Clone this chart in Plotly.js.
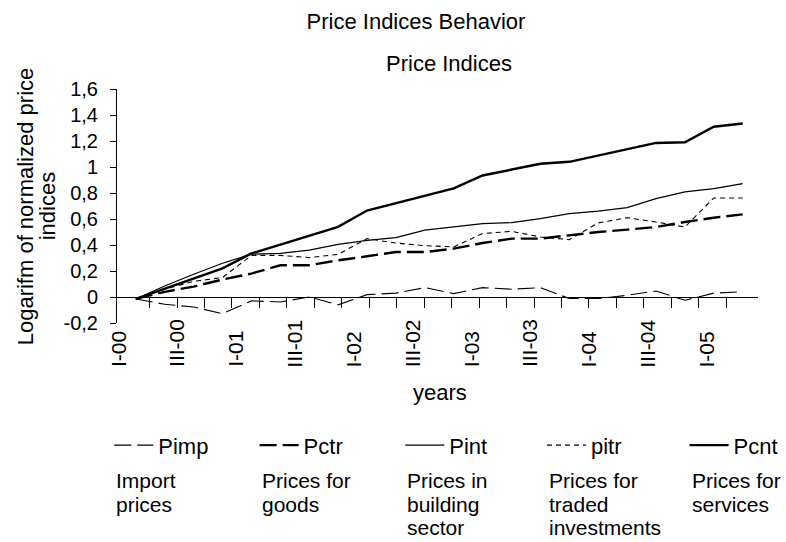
<!DOCTYPE html>
<html><head><meta charset="utf-8">
<script src="https://cdn.plot.ly/plotly-3.0.1.min.js"></script>
<style>html,body{margin:0;padding:0;background:#fff}#chart{width:786px;height:542px}</style>
</head><body><div id="chart"></div>
<script>
// ---- data ----
const quarters = ["I-00","II-00","III-00","IV-00","I-01","II-01","III-01","IV-01",
  "I-02","II-02","III-02","IV-02","I-03","II-03","III-03","IV-03",
  "I-04","II-04","III-04","IV-04","I-05","II-05"];
const tickLabels = ["I-00","III-00","I-01","III-01","I-02","III-02","I-03","III-03","I-04","III-04","I-05"];
const Pimp = [-0.015,-0.056,-0.077,-0.128,-0.03,-0.038,0.0,-0.06,0.018,0.03,0.072,0.026,0.072,0.06,0.072,-0.012,-0.012,0.013,0.046,-0.025,0.03,0.04];
const Pctr = [-0.015,0.04,0.08,0.134,0.18,0.244,0.244,0.282,0.313,0.346,0.346,0.372,0.415,0.449,0.449,0.475,0.5,0.518,0.538,0.577,0.61,0.636];
const Pint = [-0.015,0.085,0.175,0.26,0.33,0.335,0.36,0.405,0.436,0.457,0.515,0.538,0.565,0.572,0.603,0.641,0.66,0.687,0.757,0.808,0.834,0.872];
const pitr = [-0.015,0.06,0.12,0.15,0.32,0.32,0.303,0.328,0.449,0.415,0.395,0.385,0.488,0.505,0.462,0.441,0.57,0.61,0.577,0.538,0.762,0.762];
const Pcnt = [-0.015,0.065,0.145,0.22,0.335,0.405,0.47,0.54,0.665,0.72,0.78,0.835,0.935,0.98,1.025,1.04,1.09,1.135,1.185,1.19,1.31,1.335];
const seriesNames = ["Pimp","Pctr","Pint","pitr","Pcnt"];
const seriesValues = [Pimp, Pctr, Pint, pitr, Pcnt];
const seriesDescriptions = [["Import","prices"],["Prices for","goods"],["Prices in","building","sector"],["Prices for","traded","investments"],["Prices for","services"]];
const yTickValues = [-0.2,0,0.2,0.4,0.6,0.8,1,1.2,1.4,1.6];
const yTickText = ["-0,2","0","0,2","0,4","0,6","0,8","1","1,2","1,4","1,6"];

// ---- layout geometry (pixels) ----
const W = 786, H = 542;
const PL = 116.7, PR = 757.7, PT = 88.7, PB = 322.7;
const PW = PR - PL, PH = PB - PT;
const P0 = 135.5, DP = 28.9;          // first point px, px per quarter
const T0 = 149.3, DT = 27.46;         // category tick marks
const L0 = 117.5, DL = 58.85;         // tick label centres
const toData = px => (px - P0) / DP;
const paperX = px => (px - PL) / PW;
const paperY = py => (PB - py) / PH;
const FONT = "Liberation Sans, Arial, Helvetica, sans-serif";

const styles = [
  {width: 1.1, dash: "17px,6px"},
  {width: 2.4, dash: "17px,6px"},
  {width: 1.2, dash: "solid"},
  {width: 1.1, dash: "5px,4px"},
  {width: 2.4, dash: "solid"}
];
const legendLeft = [109, 254.3, 400, 541.7, 684.3];
const xIdx = quarters.map((q, i) => i);

const traces = seriesNames.map((n, s) => ({
  type: "scatter", mode: "lines", name: n, x: xIdx, y: seriesValues[s],
  line: {color: "#000", width: styles[s].width, dash: styles[s].dash},
  legend: s === 0 ? "legend" : "legend" + (s + 1),
  hoverinfo: "skip"
}));

const annotations = [];
annotations.push({text: "Price Indices", xref: "paper", yref: "paper", x: paperX(449), y: paperY(63),
  xanchor: "center", yanchor: "middle", showarrow: false, font: {size: 22, color: "#000"}});
annotations.push({text: "Logarifm of normalized price", xref: "paper", yref: "paper", x: paperX(25), y: 0.5,
  xanchor: "center", yanchor: "middle", textangle: -90, showarrow: false, font: {size: 22, color: "#000"}});
annotations.push({text: "indices", xref: "paper", yref: "paper", x: paperX(47), y: 0.5,
  xanchor: "center", yanchor: "middle", textangle: -90, showarrow: false, font: {size: 22, color: "#000"}});
tickLabels.forEach((t, k) => annotations.push({text: t, xref: "x", yref: "paper",
  x: toData(L0 + DL * k), y: paperY(369), xanchor: "center", yanchor: "bottom", textangle: -90,
  showarrow: false, font: {size: 21, color: "#000"}}));
annotations.push({text: "years", xref: "paper", yref: "paper", x: paperX(440), y: paperY(392),
  xanchor: "center", yanchor: "middle", showarrow: false, font: {size: 22, color: "#000"}});
const descLeft = [114, 259.3, 405, 546.7, 689.3];
const descRows = [480, 504, 527];
seriesDescriptions.forEach((lines, s) => lines.forEach((ln, r) => annotations.push({
  text: ln, xref: "paper", yref: "paper", x: paperX(descLeft[s]), y: paperY(descRows[r]),
  xanchor: "left", yanchor: "middle", showarrow: false, font: {size: 21, color: "#000"}})));

const catTicks = [];
for (let m = 0; m < 22; m++) catTicks.push(toData(T0 + DT * m));

const layout = {
  width: W, height: H, paper_bgcolor: "#fff", plot_bgcolor: "#fff",
  font: {family: FONT, size: 22, color: "#000"},
  margin: {l: PL, r: W - PR, t: PT, b: H - PB, pad: 0, autoexpand: false},
  title: {text: "Price Indices Behavior", xref: "container", yref: "container",
    x: 416 / W, y: 1 - 21 / H, xanchor: "center", yanchor: "middle", font: {size: 22, color: "#000"}},
  xaxis: {range: [toData(PL), toData(PR)], anchor: "free",
    position: (0 - yTickValues[0]) / (yTickValues[yTickValues.length - 1] - yTickValues[0]),
    showline: true, linecolor: "#000", linewidth: 1, showgrid: false, zeroline: false,
    tickmode: "array", tickvals: catTicks, ticks: "outside", ticklen: 10, tickwidth: 1, tickcolor: "#000",
    showticklabels: false},
  yaxis: {range: [yTickValues[0], yTickValues[yTickValues.length - 1]], tickmode: "array",
    tickvals: yTickValues, ticktext: yTickText, ticks: "outside", ticklen: 6, tickwidth: 1, tickcolor: "#000",
    showline: true, linecolor: "#000", linewidth: 1, showgrid: false, zeroline: false,
    tickfont: {size: 20, color: "#000"}, ticklabelstandoff: 8},
  annotations: annotations,
  showlegend: true
};
legendLeft.forEach((px, s) => {
  layout[s === 0 ? "legend" : "legend" + (s + 1)] = {
    xref: "paper", yref: "paper", x: paperX(px), y: paperY(445), xanchor: "left", yanchor: "middle",
    orientation: "h", bgcolor: "rgba(0,0,0,0)", borderwidth: 0, itemwidth: 39,
    font: {size: 22, color: "#000", family: FONT}, itemclick: false, itemdoubleclick: false
  };
});

Plotly.newPlot("chart", traces, layout, {displayModeBar: false, staticPlot: true});
</script>
</body></html>
